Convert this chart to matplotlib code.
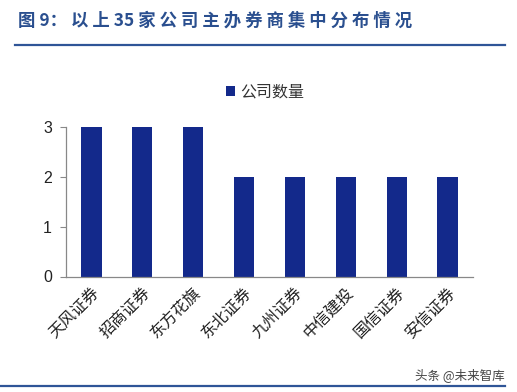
import matplotlib
matplotlib.use("Agg")
import matplotlib.pyplot as plt
from matplotlib.lines import Line2D

plt.rcParams['font.family'] = ['Noto Sans CJK SC', 'DejaVu Sans']

categories = ["天风证券", "招商证券", "东方花旗", "东北证券", "九州证券", "中信建投", "国信证券", "安信证券"]
values = [3, 3, 3, 2, 2, 2, 2, 2]
yticks = [0, 1, 2, 3]
series_name = "公司数量"
title = "图 9： 以 上 35 家 公 司 主 办 券 商 集 中 分 布 情 况"
source = "头条 @未来智库"

W, H = 517, 392
fig = plt.figure(figsize=(W / 100, H / 100), dpi=100)

ax = fig.add_axes([66 / W, 1 - 276.5 / H, (473 - 66) / W, (276.5 - 127) / H])
bar_color = "#13298b"
x = list(range(len(categories)))
ax.bar(x, values, width=0.4, color=bar_color, label=series_name, zorder=2)
ax.set_xlim(-0.5, len(categories) - 0.5)
ax.set_ylim(0, 3)
ax.set_yticks(yticks)
ax.set_yticklabels([str(v) for v in yticks], fontsize=11.5, color="#222222",
                   family=["Liberation Sans", "DejaVu Sans"])
ax.set_xticks(x)
ax.set_xticklabels(categories, rotation=45, ha="right", rotation_mode="anchor",
                   fontsize=11.5, color="#222222")
ax.tick_params(axis="x", length=0, pad=6)
ax.tick_params(axis="y", length=4, width=0.8, color="#888888", pad=6, direction="out")
for s in ["top", "right"]:
    ax.spines[s].set_visible(False)
for s in ["left", "bottom"]:
    ax.spines[s].set_color("#888888")
    ax.spines[s].set_linewidth(0.9)

leg = ax.legend(loc="center", bbox_to_anchor=(265 / W, 1 - 92 / H), bbox_transform=fig.transFigure,
                frameon=False, fontsize=11.5, handlelength=0.55, handleheight=0.55,
                handletextpad=0.3, borderaxespad=0)
for t in leg.get_texts():
    t.set_color("#333333")

title_color = "#2a4f8f"
fig.text(18 / W, 1 - 21 / H, title, fontsize=12.5, fontweight="bold", color=title_color,
         ha="left", va="center")
fig.add_artist(Line2D([15 / W, 505 / W], [1 - 45 / H, 1 - 45 / H], color="#2f5597", lw=1.6))
fig.add_artist(Line2D([0 / W, 505 / W], [1 - 386 / H, 1 - 386 / H], color="#2f5597", lw=1.6))
fig.text(505 / W, 1 - 375 / H, source, fontsize=9, color="#444444", ha="right", va="center")

fig.savefig("out.png", dpi=100)
